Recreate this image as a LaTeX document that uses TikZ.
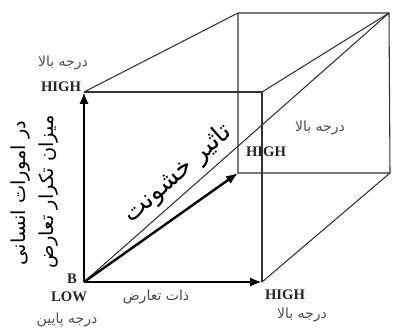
\documentclass[tikz,border=0pt]{standalone}
\usepackage{fontspec}
\setmainfont{Liberation Serif}
\newfontfamily\arabicfont[Script=Arabic]{DejaVu Sans}
\TeXXeTstate=1
\usetikzlibrary{arrows.meta}
\newcommand{\fa}[1]{{\arabicfont\beginR #1\endR}}

\begin{document}
\begin{tikzpicture}[x=0.75pt, y=-0.75pt,
  edge/.style={line width=0.8pt, black!80},
  axis/.style={line width=1.8pt, -{Latex[length=9pt,width=7pt]}},
  level/.style={font=\bfseries\fontsize{11}{12}\selectfont, black!85, inner sep=1pt},
  degree/.style={font=\fontsize{10.5}{12}\selectfont, black!70, inner sep=1pt},
  title/.style={font=\fontsize{14.5}{16}\selectfont, inner sep=1pt}]
  \useasboundingbox (0,0) rectangle (399,331);
  % Corners
  \coordinate (B) at (84,282);
  \coordinate (ftl) at (84,92);
  \coordinate (ftr) at (262,92);
  \coordinate (fbr) at (262,282);
  \coordinate (btl) at (238,13);
  \coordinate (btr) at (389,13);
  \coordinate (bbr) at (390,173);
  \coordinate (bbl) at (238,173);
  % Box
  \draw[edge] (ftl) -- (ftr) -- (fbr);
  \draw[edge] (ftl) -- (btl) -- (btr) -- (bbr) -- (bbl) -- (btl);
  \draw[edge] (ftr) -- (btr);
  \draw[edge] (fbr) -- (bbr);
  \draw[edge] (B) -- (btr);
  % Axes
  \draw[axis] (B) -- (ftl);
  \draw[axis] (B) -- (fbr);
  \draw[axis] (B) -- (bbl);
  % Labels, vertical axis
  \node[degree] (upper) at (63,63) {\fa{درجه بالا}};
  \node[level] (upperhigh) at (61,87) {HIGH};
  \node[title, rotate=90] (freq) at (49,192) {\fa{میزان تکرار تعارض}};
  \node[title, rotate=90] (human) at (21,193) {\fa{در امورات انسانی}};
  % Labels, origin
  \node[level] (origin) at (72,279) {B};
  \node[level] (low) at (69,297) {LOW};
  \node[degree] (lower) at (67,320) {\fa{درجه پایین}};
  % Labels, horizontal axis
  \node[degree] (nature) at (156,297) {\fa{ذات تعارض}};
  \node[level] (righthigh) at (285,295) {HIGH};
  \node[degree] (right) at (302,315) {\fa{درجه بالا}};
  % Labels, depth axis
  \node[level] (deephigh) at (266,152) {HIGH};
  \node[degree] (deep) at (320,128) {\fa{درجه بالا}};
  \node[title, font=\fontsize{19}{20}\selectfont, rotate=41.5] (violence) at (178,174) {\fa{تاثیر خشونت}};
\end{tikzpicture}
\end{document}
